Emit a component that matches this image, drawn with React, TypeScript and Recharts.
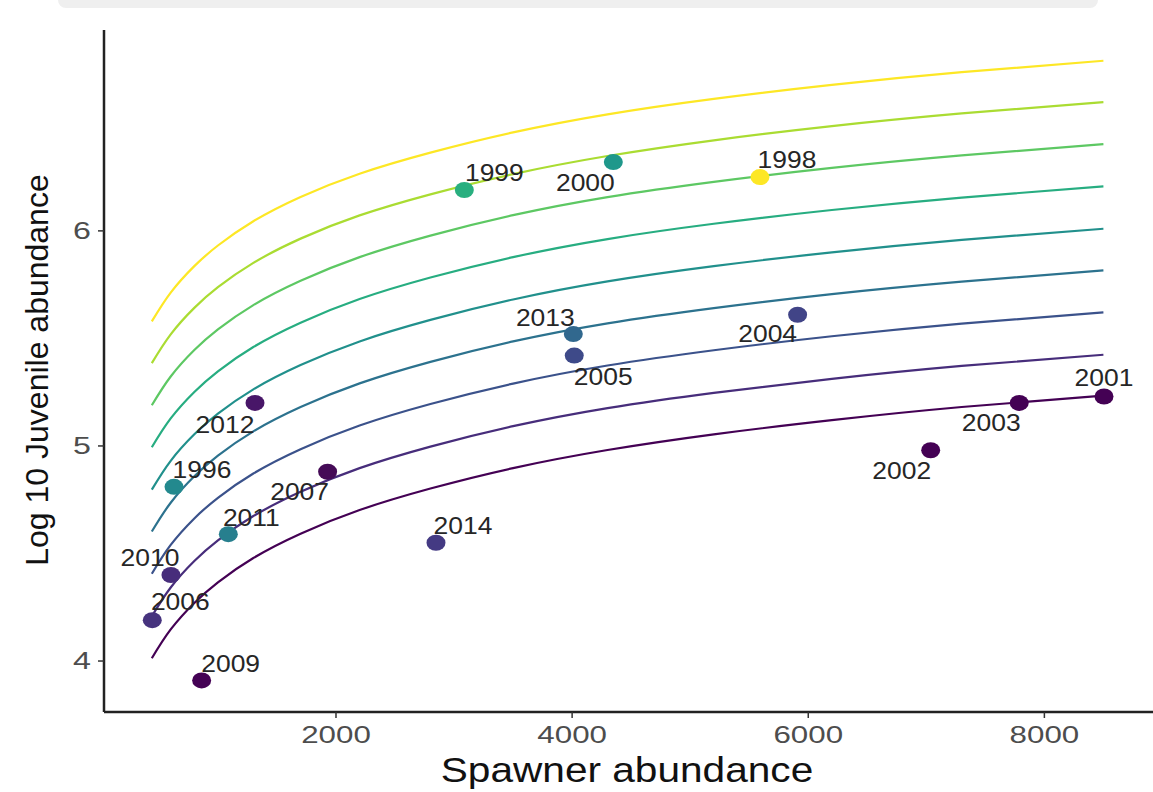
import React from 'react';
import { ComposedChart, Line, Scatter, XAxis, YAxis } from 'recharts';

// spawner grid the fitted curves were read at
const spawnerGrid = [440, 600, 800, 1000, 1300, 1700, 2200, 2800, 3500, 4300, 5200, 6200, 7300, 8500];

// nine fitted curves, bottom (purple) to top (yellow), log10 juveniles
const curve1 = [4.013, 4.147, 4.270, 4.366, 4.479, 4.592, 4.702, 4.802, 4.897, 4.981, 5.054, 5.120, 5.181, 5.234];
const curve2 = [4.208, 4.342, 4.465, 4.561, 4.674, 4.787, 4.897, 4.997, 5.092, 5.176, 5.247, 5.312, 5.372, 5.424];
const curve3 = [4.406, 4.540, 4.663, 4.759, 4.872, 4.985, 5.095, 5.195, 5.290, 5.374, 5.445, 5.510, 5.569, 5.621];
const curve4 = [4.602, 4.736, 4.859, 4.955, 5.068, 5.181, 5.291, 5.391, 5.486, 5.570, 5.641, 5.706, 5.764, 5.816];
const curve5 = [4.797, 4.931, 5.054, 5.150, 5.263, 5.376, 5.486, 5.586, 5.681, 5.765, 5.836, 5.900, 5.958, 6.010];
const curve6 = [4.994, 5.128, 5.251, 5.347, 5.460, 5.573, 5.683, 5.783, 5.878, 5.962, 6.033, 6.097, 6.155, 6.207];
const curve7 = [5.189, 5.323, 5.446, 5.542, 5.655, 5.768, 5.878, 5.978, 6.073, 6.157, 6.228, 6.293, 6.351, 6.403];
const curve8 = [5.385, 5.519, 5.642, 5.738, 5.851, 5.964, 6.072, 6.170, 6.264, 6.348, 6.421, 6.487, 6.546, 6.599];
const curve9 = [5.579, 5.713, 5.836, 5.932, 6.045, 6.158, 6.266, 6.364, 6.458, 6.542, 6.614, 6.679, 6.738, 6.791];
const curves = [curve1, curve2, curve3, curve4, curve5, curve6, curve7, curve8, curve9];
const curveColors = ['#440154', '#472D7B', '#3B528B', '#2C728E', '#21908C', '#27AD81', '#5DC863', '#AADC32', '#FDE725'];

// observed years
const years = ['1996', '1998', '1999', '2000', '2001', '2002', '2003', '2004', '2005', '2006', '2007', '2009', '2010', '2011', '2012', '2013', '2014'];
const spawners = [628, 5591, 3087, 4349, 8505, 7037, 7787, 5910, 4018, 444, 1929, 862, 602, 1088, 1314, 4010, 2847];
const juveniles = [4.81, 6.25, 6.19, 6.32, 5.23, 4.98, 5.20, 5.61, 5.42, 4.19, 4.88, 3.91, 4.40, 4.59, 5.20, 5.52, 4.55];

const xTicks = [2000, 4000, 6000, 8000];
const yTicks = [4, 5, 6];

// styling per year: point colour and label offset (px)
const pointColor: Record<string, string> = {
  '1996': '#23898E', '1998': '#FDE725', '1999': '#29AF7F', '2000': '#1F988B',
  '2001': '#440154', '2002': '#440154', '2003': '#440154', '2004': '#414487',
  '2005': '#3E4A89', '2006': '#46337E', '2007': '#450B57', '2009': '#440154',
  '2010': '#472D7B', '2011': '#277F8E', '2012': '#481668', '2013': '#31688E',
  '2014': '#443A83',
};
const labelOffset: Record<string, [number, number]> = {
  '1996': [28, -17], '1998': [27, -17], '1999': [30, -17], '2000': [-28, 21],
  '2001': [0, -19], '2002': [-29, 20], '2003': [-28, 20], '2004': [-30, 19],
  '2005': [29, 21], '2006': [28, -18], '2007': [-28, 20], '2009': [29, -17],
  '2010': [-21, -17], '2011': [23, -16], '2012': [-30, 22], '2013': [-28, -16],
  '2014': [27, -17],
};

const points = years.map((year, i) => ({ year, s: spawners[i], y: juveniles[i] }));

const FONT = '"Liberation Sans", Arial, Helvetica, sans-serif';

const PointShape = (props: any) => {
  const { cx, cy, payload } = props;
  const [dx, dy] = labelOffset[payload.year];
  return (
    <g>
      <ellipse cx={cx} cy={cy} rx={9.5} ry={8} fill={pointColor[payload.year]} />
      <g transform={`translate(${cx + dx},${cy + dy})`}>
        <text transform="scale(1.15,1)" textAnchor="middle" dy="0.36em" fontSize={23} fill="#262626" fontFamily={FONT}>
          {payload.year}
        </text>
      </g>
    </g>
  );
};

const XTick = (props: any) => {
  const { x, y, payload } = props;
  return (
    <g transform={`translate(${x},${y + 23})`}>
      <text transform="scale(1.36,1)" textAnchor="middle" fontSize={23} fill="#4d4d4d" fontFamily={FONT}>
        {payload.value}
      </text>
    </g>
  );
};

const YTick = (props: any) => {
  const { x, y, payload } = props;
  return (
    <g transform={`translate(${x - 5},${y})`}>
      <text transform="scale(1.4,1)" textAnchor="end" dy="0.36em" fontSize={23} fill="#4d4d4d" fontFamily={FONT}>
        {payload.value}
      </text>
    </g>
  );
};

export default function App() {
  return (
    <div style={{ position: 'absolute', left: 0, top: 0, width: 1153, height: 792, background: '#fff', overflow: 'hidden' }}>
      <div style={{ position: 'absolute', left: 58, top: 0, width: 1040, height: 8, background: '#efefef', borderRadius: '0 0 8px 8px' }} />
      <ComposedChart width={1153} height={792} margin={{ top: 30, right: 0, bottom: 0, left: 0 }}>
        <XAxis
          type="number"
          dataKey="s"
          domain={[35, 8920]}
          ticks={xTicks}
          allowDataOverflow
          height={80}
          axisLine={{ stroke: '#222', strokeWidth: 2.5 }}
          tickLine={{ stroke: '#333', strokeWidth: 1.5 }}
          tickSize={6}
          tick={<XTick />}
        />
        <YAxis
          type="number"
          dataKey="y"
          domain={[3.763, 6.934]}
          ticks={yTicks}
          allowDataOverflow
          width={104}
          axisLine={{ stroke: '#222', strokeWidth: 2.5 }}
          tickLine={{ stroke: '#333', strokeWidth: 1.5 }}
          tickSize={6}
          tick={<YTick />}
        />
        {curves.map((c, k) => (
          <Line
            key={k}
            data={spawnerGrid.map((s, i) => ({ s, y: c[i] }))}
            dataKey="y"
            type="natural"
            stroke={curveColors[k]}
            strokeWidth={2.2}
            dot={false}
            activeDot={false}
            isAnimationActive={false}
          />
        ))}
        <Scatter data={points} dataKey="y" shape={<PointShape />} isAnimationActive={false} />
      </ComposedChart>
      <div
        style={{
          position: 'absolute', left: 627, top: 750, transform: 'translateX(-50%) scaleX(1.16)',
          fontFamily: FONT, fontSize: 35, color: '#111', whiteSpace: 'nowrap', lineHeight: '40px',
        }}
      >
        Spawner abundance
      </div>
      <div
        style={{
          position: 'absolute', left: 37, top: 370, transform: 'translate(-50%, -50%) rotate(-90deg)',
          fontFamily: FONT, fontSize: 32, color: '#111', whiteSpace: 'nowrap', lineHeight: '34px',
        }}
      >
        Log 10 Juvenile abundance
      </div>
    </div>
  );
}
